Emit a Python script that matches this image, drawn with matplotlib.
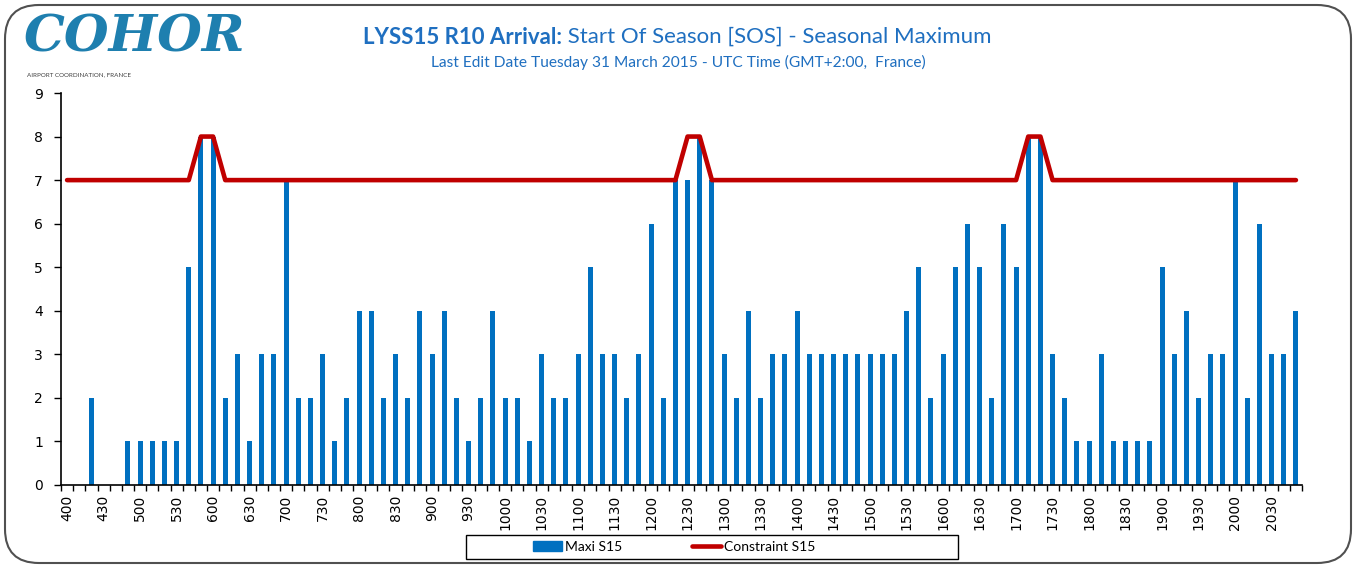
import numpy as np
import matplotlib.pyplot as plt
from matplotlib.patches import FancyBboxPatch, Rectangle
from matplotlib.lines import Line2D
from matplotlib.patches import Patch

# creneaux de 10 minutes, 400 -> 2050
slots = [f"{h}{m:02d}" for h in range(4, 21) for m in range(0, 60, 10)]

maxi_s15 = [0, 0, 2, 0, 0, 1, 1, 1, 1, 1, 5, 8, 8, 2, 3, 1, 3,
            3, 7, 2, 2, 3, 1, 2, 4, 4, 2, 3, 2, 4, 3, 4, 2, 1,
            2, 4, 2, 2, 1, 3, 2, 2, 3, 5, 3, 3, 2, 3, 6, 2, 7,
            7, 8, 7, 3, 2, 4, 2, 3, 3, 4, 3, 3, 3, 3, 3, 3, 3,
            3, 4, 5, 2, 3, 5, 6, 5, 2, 6, 5, 8, 8, 3, 2, 1, 1,
            3, 1, 1, 1, 1, 5, 3, 4, 2, 3, 3, 7, 2, 6, 3, 3, 4]

constraint_s15 = [7, 7, 7, 7, 7, 7, 7, 7, 7, 7, 7, 8, 8, 7, 7, 7, 7,
                  7, 7, 7, 7, 7, 7, 7, 7, 7, 7, 7, 7, 7, 7, 7, 7, 7,
                  7, 7, 7, 7, 7, 7, 7, 7, 7, 7, 7, 7, 7, 7, 7, 7, 7,
                  8, 8, 7, 7, 7, 7, 7, 7, 7, 7, 7, 7, 7, 7, 7, 7, 7,
                  7, 7, 7, 7, 7, 7, 7, 7, 7, 7, 7, 8, 8, 7, 7, 7, 7,
                  7, 7, 7, 7, 7, 7, 7, 7, 7, 7, 7, 7, 7, 7, 7, 7, 7]

W, H = 1357, 567
BLEU = "#0070C0"
ROUGE = "#C00000"
TXT = "#1F6FC0"
POLICE = "Lato"

fig = plt.figure(figsize=(W / 100, H / 100), dpi=100)

# cadre arrondi
fig.patches.append(FancyBboxPatch((5 / W, 4 / H), 1346 / W, 558 / H,
                                  boxstyle="round,pad=0,rounding_size=0.025",
                                  transform=fig.transFigure, fill=False,
                                  edgecolor="#505050", lw=1.5, mutation_aspect=W / H))

ax = fig.add_axes([61 / W, 1 - 485 / H, (1302 - 61) / W, (485 - 93) / H])
x = np.arange(len(slots))
ax.bar(x, maxi_s15, width=0.42, color=BLEU, zorder=2)
ax.plot(x, constraint_s15, color=ROUGE, lw=3.3, solid_capstyle="round", zorder=3)

ax.set_xlim(-0.5, len(slots) - 0.5)
ax.set_ylim(0, 9)
ax.set_yticks(range(10))
ax.set_xticks(x[::3])
ax.set_xticklabels(slots[::3], rotation=90)
ax.set_xticks(np.arange(-0.5, len(slots), 1), minor=True)
ax.tick_params(axis="x", which="major", length=0, labelsize=10, pad=7)
ax.tick_params(axis="x", which="minor", length=4, width=1, direction="out")
ax.tick_params(axis="y", length=5, width=1, labelsize=10, pad=8)
for s in ["top", "right"]:
    ax.spines[s].set_visible(False)
for s in ["left", "bottom"]:
    ax.spines[s].set_linewidth(1.2)

# titres
fig.text(562 / W, 1 - 37 / H, "LYSS15 R10 Arrival:", ha="right", va="center",
         fontsize=16, fontweight="bold", color=TXT, family=POLICE)
fig.text(562 / W, 1 - 37 / H, " Start Of Season [SOS] - Seasonal Maximum", ha="left",
         va="center", fontsize=16, color=TXT, family=POLICE)
fig.text(678 / W, 1 - 62 / H, "Last Edit Date Tuesday 31 March 2015 - UTC Time (GMT+2:00,  France)",
         ha="center", va="center", fontsize=11.2, color=TXT, family=POLICE)

# logo
fig.text(24 / W, 1 - 38 / H, "COHOR", ha="left", va="center", fontsize=37,
         fontweight="bold", style="italic", color="#1E7FAF", family="DejaVu Serif")
fig.text(27 / W, 1 - 75 / H, "AIRPORT COORDINATION, FRANCE", ha="left", va="center",
         fontsize=4.5, color="#404040", family=POLICE)

# legende
fig.patches.append(Rectangle((466 / W, 1 - 559 / H), 492 / W, 24 / H,
                             transform=fig.transFigure, fill=False,
                             edgecolor="black", lw=1))
poignees = [Patch(color=BLEU), Line2D([], [], color=ROUGE, lw=3.3, solid_capstyle="round")]
fig.legend(poignees, ["Maxi S15", "Constraint S15"], loc="center",
           bbox_to_anchor=(674 / W, 1 - 547 / H), ncol=2, frameon=False,
           prop={"family": POLICE, "size": 10}, handlelength=2.1, handletextpad=0.2,
           columnspacing=5.0)

fig.savefig("out.png", dpi=100)
